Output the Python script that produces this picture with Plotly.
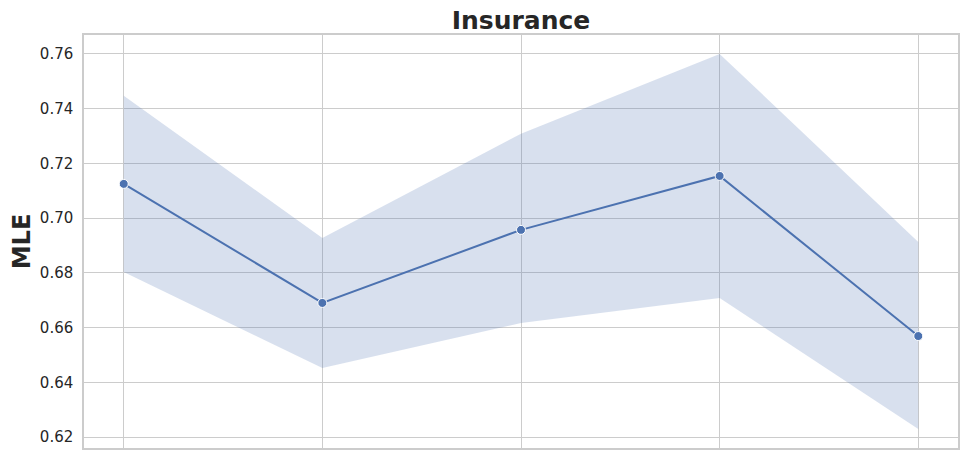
import plotly.graph_objects as go

x = [0, 1, 2, 3, 4]
mle = [0.7125, 0.6690, 0.6957, 0.7154, 0.6569]
upper = [0.7447, 0.6927, 0.7308, 0.7600, 0.6913]
lower = [0.6803, 0.6452, 0.6617, 0.6708, 0.6229]
yticks = [0.62, 0.64, 0.66, 0.68, 0.70, 0.72, 0.74, 0.76]

blue = '#4c72b0'

fig = go.Figure()
fig.add_trace(go.Scatter(x=x, y=upper, mode='lines', line=dict(width=0), hoverinfo='skip', showlegend=False))
fig.add_trace(go.Scatter(x=x, y=lower, mode='lines', line=dict(width=0), fill='tonexty',
                         fillcolor='rgba(76,114,176,0.22)', hoverinfo='skip', showlegend=False))
fig.add_trace(go.Scatter(x=x, y=mle, mode='lines+markers', line=dict(color=blue, width=2),
                         marker=dict(size=9, color=blue, line=dict(color='white', width=1)),
                         showlegend=False))

axis_common = dict(showline=True, linecolor='#cccccc', linewidth=1.5, mirror=True,
                   showgrid=True, gridcolor='#cccccc', gridwidth=1, zeroline=False, automargin=False)
fig.update_xaxes(range=[-0.2, 4.2], tickvals=x, showticklabels=False, **axis_common)
fig.update_yaxes(range=[0.616, 0.7669], tickvals=yticks,
                 tickformat='.2f', ticks='', ticklabelstandoff=6,
                 title=dict(text='<b>MLE</b>', font=dict(size=24, color='#262626'), standoff=5),
                 **axis_common)

# page body adds ~8px offset, so figure is sized to land the plot where the reference has it
fig.update_layout(
    width=963, height=457,
    margin=dict(l=76, r=13, t=27, b=17),
    plot_bgcolor='white', paper_bgcolor='white',
    font=dict(family='DejaVu Sans', size=15, color='#262626'),
    title=dict(text='<b>Insurance</b>', x=0.5327, xanchor='center', y=0.973, yanchor='middle',
               font=dict(size=25, color='#262626')),
)

fig.write_html("out.html")
